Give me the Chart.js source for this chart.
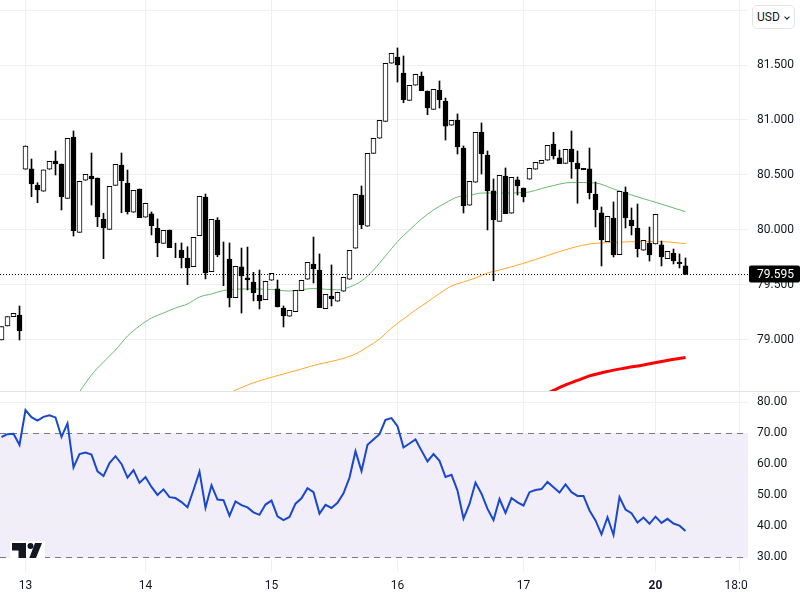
<!DOCTYPE html>
<html>
<head>
<meta charset="utf-8">
<title>USD chart</title>
<script src="https://cdn.jsdelivr.net/npm/chart.js@4"></script>
<style>
  body { margin: 0; background: #fff; width: 800px; height: 600px; overflow: hidden; font-family: Roboto, sans-serif; }
  canvas { position: absolute; left: 0; }
  #priceChart { top: 0; }
  #rsiChart { top: 392px; }
  #currency { position: absolute; left: 752px; top: 5px; width: 43px; height: 24px; box-sizing: border-box; background: #fff; border: 1px solid #e0e3eb; border-radius: 5px; font-size: 12px; line-height: 22px; padding-left: 4px; color: #131722; }
  #currency i { position: absolute; right: 5px; top: 9px; width: 3px; height: 3px; border-right: 1px solid #131722; border-bottom: 1px solid #131722; transform: rotate(45deg); }
  #logo { position: absolute; left: 10px; top: 541px; }
</style>
</head>
<body>
<canvas id="priceChart" width="800" height="392"></canvas>
<canvas id="rsiChart" width="800" height="208"></canvas>
<div id="currency">USD<i></i></div>
<svg id="logo" width="35" height="18" viewBox="0 0 35 18">
  <rect width="35" height="18" fill="#fff"/>
  <path d="M2 2h14v15h-7.500v-7.500h-6.500z" fill="#131722"/>
  <circle cx="20.500" cy="5" r="3" fill="#131722"/>
  <path d="M25 2h7l-6 15h-6.700z" fill="#131722"/>
</svg>
<script>
// candle values
const opens = [79.00,79.127,79.212,79.227,80.552,80.555,80.409,80.352,80.552,80.627,80.60,80.288,80.845,79.979,80.452,80.491,80.473,80.10,80.006,80.406,
  80.591,80.427,80.161,80.373,80.116,80.146,80.018,79.879,80.00,79.818,79.818,79.745,79.666,79.948,80.30,79.621,80.091,79.755,79.736,79.385,
  79.664,79.566,79.527,79.409,79.366,79.543,79.464,79.291,79.216,79.257,79.448,79.552,79.691,79.636,79.285,79.40,79.352,79.443,79.552,79.834,
  80.318,80.034,80.697,80.834,80.988,81.516,81.573,81.427,81.179,81.316,81.40,81.264,81.097,81.27,81.173,80.952,81.00,80.745,80.225,80.434,
  80.891,80.682,80.355,80.079,80.491,80.152,80.455,80.382,80.461,80.552,80.606,80.634,80.782,80.655,80.606,80.736,80.609,80.561,80.555,80.327,
  80.155,79.894,80.109,79.776,80.345,80.091,80.018,79.816,79.882,79.873,79.864,79.739,79.791,79.709,79.673];
const highs = [79.121,79.212,79.243,79.309,80.764,80.645,80.430,80.546,80.625,80.718,80.60,80.834,80.90,80.443,80.506,80.70,80.473,80.152,80.397,80.597,
  80.70,80.545,80.361,80.373,80.243,80.164,80.10,79.997,80.00,79.88,79.882,79.848,79.934,80.306,80.327,80.097,80.112,79.891,79.882,79.67,
  79.836,79.845,79.615,79.636,79.534,79.606,79.545,79.309,79.27,79.452,79.543,79.706,79.936,79.782,79.415,79.682,79.434,79.57,79.815,80.325,
  80.40,80.697,80.834,80.997,81.516,81.606,81.655,81.582,81.316,81.416,81.436,81.264,81.279,81.355,81.20,80.997,81.055,80.764,80.443,80.888,
  80.973,80.718,80.464,80.497,80.564,80.479,80.482,80.382,80.561,80.615,80.634,80.77,80.888,80.727,80.734,80.90,80.718,80.561,80.745,80.436,
  80.209,80.125,80.255,80.352,80.391,80.20,80.236,79.906,80.027,80.143,79.90,79.806,79.827,79.782,79.745];
const lows = [79.00,79.127,79.212,79.00,80.552,80.303,80.248,80.352,80.552,80.50,80.182,80.288,79.945,79.979,80.452,80.227,80.03,79.739,80.006,80.406,
  80.157,80.145,80.161,80.112,80.116,79.955,79.757,79.879,79.839,79.748,79.655,79.503,79.666,79.948,79.555,79.621,79.757,79.494,79.30,79.385,
  79.245,79.455,79.355,79.282,79.366,79.543,79.30,79.118,79.216,79.257,79.448,79.552,79.518,79.294,79.285,79.309,79.352,79.443,79.552,79.834,
  80.012,80.034,80.697,80.834,80.988,81.516,81.345,81.157,81.179,81.316,81.267,81.048,81.097,81.109,80.818,80.952,80.691,80.155,80.225,80.434,
  80.509,80.00,79.539,80.079,80.148,80.152,80.318,80.255,80.461,80.552,80.606,80.634,80.645,80.603,80.606,80.47,80.243,80.548,80.282,80.027,
  79.673,79.894,79.755,79.776,80.018,79.955,79.755,79.816,79.718,79.873,79.673,79.739,79.691,79.655,79.595];
const closes = [79.121,79.212,79.243,79.085,80.764,80.418,80.364,80.546,80.625,80.60,80.303,80.834,79.994,80.443,80.506,80.464,80.118,80.018,80.397,80.597,
  80.448,80.167,80.361,80.112,80.243,80.039,79.882,79.997,79.839,79.818,79.745,79.655,79.934,80.306,79.609,80.097,79.773,79.755,79.382,79.67,
  79.582,79.545,79.427,79.355,79.534,79.606,79.30,79.218,79.27,79.452,79.543,79.706,79.645,79.294,79.415,79.373,79.434,79.57,79.815,80.325,
  80.048,80.697,80.834,80.997,81.516,81.606,81.50,81.185,81.316,81.416,81.267,81.109,81.279,81.185,80.945,80.997,80.755,80.221,80.443,80.888,
  80.691,80.355,80.091,80.497,80.148,80.479,80.40,80.30,80.561,80.615,80.634,80.77,80.673,80.603,80.734,80.618,80.555,80.548,80.339,80.185,
  79.909,80.125,79.773,80.352,80.109,80.036,79.83,79.906,79.773,80.143,79.755,79.806,79.718,79.694,79.595];
const lastPrice = 79.595;

// moving averages, read at these candle positions
const greenIdx = [13,15,17,19,21,23,25,27,29,31,33,35,37,41,45,48,52,56,58,60,62,64,66,68,70,72,74,76,78,80,83,87,91,95,99,102,105,108,111,114];
const greenVals = [78.527,78.682,78.80,78.909,79.036,79.127,79.20,79.245,79.291,79.327,79.391,79.418,79.45,79.464,79.459,79.445,79.468,79.455,79.482,79.536,
  79.636,79.764,79.894,80.00,80.10,80.182,80.246,80.30,80.314,80.336,80.336,80.339,80.391,80.432,80.427,80.373,80.318,80.268,80.218,80.166];
const orangeIdx = [38,41,44,47,50,53,56,59,61,63,65,67,69,71,73,75,77,79,81,83,87,91,95,98,102,106,110,114];
const orangeVals = [78.518,78.591,78.645,78.691,78.736,78.782,78.818,78.873,78.936,79.009,79.109,79.191,79.273,79.345,79.423,79.491,79.527,79.564,79.609,79.636,
  79.697,79.768,79.836,79.873,79.886,79.895,79.894,79.876];
const redIdx = [91,92,94,96,98,101,104,107,110,114];
const redVals = [78.514,78.541,78.591,78.632,78.673,78.714,78.745,78.773,78.805,78.841];

// lower pane
const rsiVals = [68.8,69.7,69.8,66.2,77.5,75.2,74.1,75.3,75.8,75.1,68.8,73.2,59.0,63.3,63.8,63.1,57.7,56.2,60.4,62.6,
  60.1,55.7,58.1,54.0,55.9,52.7,50.1,51.9,49.4,49.1,47.8,46.1,51.7,57.6,46.0,53.2,48.6,48.4,43.4,48.0,
  46.8,46.1,44.5,43.7,47.0,48.3,43.2,42.0,43.0,47.3,49.0,52.3,51.0,44.1,46.9,45.9,47.6,50.6,55.7,64.2,
  57.8,66.3,68.0,69.7,74.3,74.9,72.3,65.4,66.7,68.0,64.4,60.9,63.3,61.1,55.9,56.6,51.5,42.5,47.2,54.1,
  50.5,45.6,42.0,48.8,44.3,49.1,47.7,46.7,51.0,51.7,52.0,54.3,52.6,50.9,53.5,51.0,49.8,49.8,45.1,41.9,
  37.4,42.9,37.2,49.4,45.4,44.2,41.2,42.8,40.8,43.1,41.1,42.4,40.9,40.2,38.5];

// time axis
const tickIdx = [4,24,45,66,87,109,123];
const tickLabels = ['13','14','15','16','17','20','18:00'];

const fontFamily = 'Roboto, sans-serif';
const gridColor = '#f0f0f3';
// keeps candle centres on half pixels so the outlines stay crisp
const xMin = -0.25, xMax = 124.417;

// axis labels must not pull the panes in
const noPadding = axis => {
    axis.paddingTop = axis.paddingBottom = axis.paddingLeft = axis.paddingRight = 0;
};

const timeAxis = {
    type: 'linear',
    offset: false,
    min: xMin,
    max: xMax,
    grid: { color: gridColor, drawTicks: false, offset: false },
    border: { display: false },
    afterBuildTicks: axis => { axis.ticks = tickIdx.map(v => ({ value: v })); }
};

const xyData = (idx, vals) => idx.map((x, i) => ({ x: x, y: vals[i] }));
const maLine = (idx, vals, color, width) => ({
    type: 'line',
    data: xyData(idx, vals),
    borderColor: color,
    borderWidth: width,
    pointRadius: 0,
    cubicInterpolationMode: 'monotone',
    order: 3
});

// last price tag and pane separator
const priceTag = {
    id: 'priceTag',
    afterDraw(chart) {
        const ctx = chart.ctx;
        const y = chart.scales.y.getPixelForValue(lastPrice);
        ctx.save();
        ctx.fillStyle = '#e0e3eb';
        ctx.fillRect(0, chart.height - 1, chart.width, 1);
        ctx.fillStyle = '#000';
        ctx.beginPath();
        ctx.roundRect(749, y - 9, 51, 17, 2);
        ctx.fill();
        ctx.fillStyle = '#fff';
        ctx.font = '12px ' + fontFamily;
        ctx.textBaseline = 'middle';
        ctx.fillText(lastPrice.toFixed(3), 757, y);
        ctx.restore();
    }
};

new Chart(document.getElementById('priceChart'), {
    type: 'bar',
    data: {
        datasets: [
            {
                data: lows.map((l, i) => ({ x: i, y: [l, highs[i]] })),
                backgroundColor: '#000',
                barThickness: 1,
                grouped: false,
                order: 2
            },
            {
                data: opens.map((o, i) => ({ x: i, y: [o, closes[i]] })),
                backgroundColor: opens.map((o, i) => closes[i] >= o ? '#fff' : '#000'),
                borderColor: '#000',
                borderWidth: 1,
                borderSkipped: false,
                barThickness: 5,
                grouped: false,
                order: 1
            },
            maLine(greenIdx, greenVals, '#66bb6a', 1),
            maLine(orangeIdx, orangeVals, '#ffa726', 1),
            maLine(redIdx, redVals, '#ff0000', 3),
            {
                type: 'line',
                data: [{ x: xMin, y: lastPrice }, { x: xMax, y: lastPrice }],
                borderColor: '#000',
                borderWidth: 1,
                borderDash: [1, 2],
                pointRadius: 0,
                order: 0
            }
        ]
    },
    options: {
        responsive: false,
        animation: false,
        layout: { padding: 0 },
        plugins: { legend: { display: false }, tooltip: { enabled: false } },
        scales: {
            x: { ...timeAxis, ticks: { display: false }, afterFit: axis => { axis.height = 0; noPadding(axis); } },
            y: {
                position: 'right',
                min: 78.527,
                max: 82.091,
                grid: { color: gridColor, drawTicks: false },
                border: { display: false },
                afterFit: axis => { axis.width = 52; noPadding(axis); },
                ticks: {
                    stepSize: 0.5,
                    includeBounds: false,
                    padding: 9,
                    color: '#131722',
                    font: { family: fontFamily, size: 12 },
                    callback: v => v === 82 ? '' : v.toFixed(3)
                }
            }
        }
    },
    plugins: [priceTag]
});

// band between 70 and 30, white cover for the axis label running past the pane
const rsiBand = {
    id: 'rsiBand',
    beforeDraw(chart) {
        const { ctx, chartArea, scales } = chart;
        const top = scales.y.getPixelForValue(70);
        const bottom = scales.y.getPixelForValue(30);
        ctx.fillStyle = 'rgba(126, 87, 194, 0.1)';
        ctx.fillRect(chartArea.left, top, chartArea.right - chartArea.left, bottom - top);
    },
    beforeDatasetsDraw(chart) {
        const { ctx, chartArea, scales } = chart;
        ctx.save();
        ctx.strokeStyle = '#787b86';
        ctx.lineWidth = 1;
        ctx.setLineDash([6, 5]);
        [70, 30].forEach(v => {
            const y = Math.round(scales.y.getPixelForValue(v)) + 0.5;
            ctx.beginPath();
            ctx.moveTo(chartArea.left, y);
            ctx.lineTo(chartArea.right, y);
            ctx.stroke();
        });
        ctx.restore();
    },
    afterDraw(chart) {
        chart.ctx.fillStyle = '#fff';
        chart.ctx.fillRect(chart.chartArea.right, chart.chartArea.bottom, 52, 28);
    }
};

new Chart(document.getElementById('rsiChart'), {
    type: 'line',
    data: {
        datasets: [{
            data: rsiVals.map((v, i) => ({ x: i, y: v })),
            borderColor: '#1848cc',
            borderWidth: 2,
            pointRadius: 0
        }]
    },
    options: {
        responsive: false,
        animation: false,
        layout: { padding: 0 },
        plugins: { legend: { display: false }, tooltip: { enabled: false } },
        scales: {
            x: {
                ...timeAxis,
                afterFit: axis => { axis.height = 28; noPadding(axis); },
                ticks: {
                    autoSkip: false,
                    maxRotation: 0,
                    padding: 7,
                    color: '#131722',
                    font: ctx => ({ family: fontFamily, size: 12, weight: ctx.tick && ctx.tick.value === 109 ? 'bold' : 'normal' }),
                    callback: v => tickLabels[tickIdx.indexOf(v)]
                }
            },
            y: {
                position: 'right',
                min: 25.26,
                max: 83.3,
                grid: { color: gridColor, drawTicks: false },
                border: { display: false },
                afterFit: axis => { axis.width = 52; noPadding(axis); },
                ticks: {
                    stepSize: 10,
                    includeBounds: false,
                    padding: 9,
                    color: '#131722',
                    font: { family: fontFamily, size: 12 },
                    callback: v => v.toFixed(2)
                }
            }
        }
    },
    plugins: [rsiBand]
});
</script>
</body>
</html>
